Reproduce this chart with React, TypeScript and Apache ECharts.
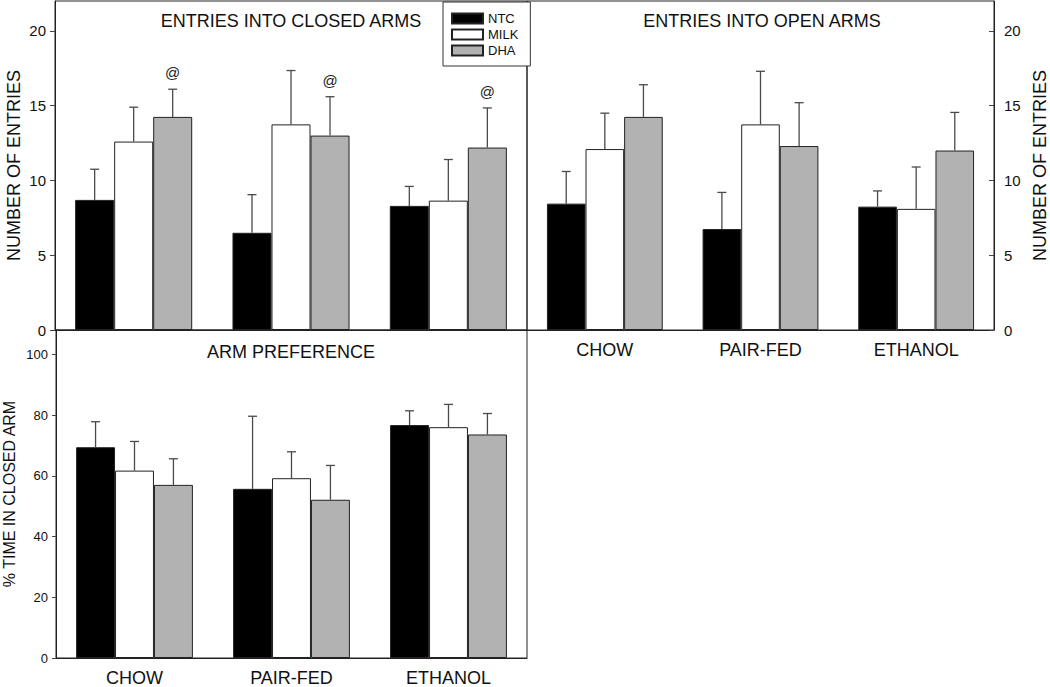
import React, { useEffect, useRef } from "react";
import * as echarts from "echarts";

const categories = ["CHOW", "PAIR-FED", "ETHANOL"];
const groups = ["NTC", "MILK", "DHA"];

// Entries into closed arms (mean, SEM)
const closedNTC = [8.7, 6.5, 8.3];
const closedNTCErr = [2.05, 2.55, 1.3];
const closedMILK = [12.6, 13.75, 8.65];
const closedMILKErr = [2.3, 3.6, 2.75];
const closedDHA = [14.25, 13.0, 12.2];
const closedDHAErr = [1.85, 2.6, 2.65];
const closedDHAMarks = ["@", "@", "@"];

// Entries into open arms
const openNTC = [8.45, 6.75, 8.25];
const openNTCErr = [2.15, 2.45, 1.05];
const openMILK = [12.1, 13.75, 8.1];
const openMILKErr = [2.4, 3.55, 2.8];
const openDHA = [14.25, 12.3, 12.0];
const openDHAErr = [2.15, 2.9, 2.55];

// Arm preference (% time in closed arm)
const prefNTC = [69.4, 55.7, 76.7];
const prefNTCErr = [8.4, 23.9, 4.7];
const prefMILK = [61.7, 59.2, 76.0];
const prefMILKErr = [9.6, 8.7, 7.5];
const prefDHA = [57.0, 52.1, 73.6];
const prefDHAErr = [8.6, 11.3, 6.9];

const entryTicks = [0, 5, 10, 15, 20];
const prefTicks = [0, 20, 40, 60, 80, 100];

const FONT = "Liberation Sans, Arial, sans-serif";
const CAT_GAP = 0.256;
const colors = ["#000000", "#ffffff", "#b2b2b2"];

function errRender(slot: number, marks?: string[]) {
  return (params: any, api: any) => {
    const cat = api.value(0);
    const mean = api.value(1);
    const upper = api.value(2);
    const p0 = api.coord([cat, mean]);
    const p1 = api.coord([cat, upper]);
    const band = api.size([1, 0])[0];
    const barW = (band * (1 - CAT_GAP)) / 3;
    const x = p0[0] + (slot - 1) * barW;
    const half = 4.5;
    const st = { stroke: "#4a4a4a", lineWidth: 1.3 };
    const children: any[] = [
      { type: "line", shape: { x1: x, y1: p0[1], x2: x, y2: p1[1] }, style: st },
      { type: "line", shape: { x1: x - half, y1: p1[1], x2: x + half, y2: p1[1] }, style: st },
    ];
    if (marks && marks[params.dataIndex]) {
      children.push({
        type: "text",
        x,
        y: p1[1] - 9,
        style: {
          text: marks[params.dataIndex],
          fill: "#222",
          font: `15px ${FONT}`,
          align: "center",
          verticalAlign: "bottom",
        },
      });
    }
    return { type: "group", children };
  };
}

function panelSeries(
  idx: number,
  means: number[][],
  errs: number[][],
  marks?: (string[] | undefined)[]
) {
  const out: any[] = [];
  means.forEach((m, s) => {
    out.push({
      type: "bar",
      name: groups[s],
      xAxisIndex: idx,
      yAxisIndex: idx,
      data: m,
      barGap: "0%",
      barCategoryGap: `${CAT_GAP * 100}%`,
      itemStyle: { color: colors[s], borderColor: "#222", borderWidth: 1 },
      emphasis: { disabled: true },
    });
  });
  means.forEach((m, s) => {
    out.push({
      type: "custom",
      name: `err-${idx}-${s}`,
      xAxisIndex: idx,
      yAxisIndex: idx,
      z: 5,
      renderItem: errRender(s, marks ? marks[s] : undefined),
      data: m.map((v, i) => [i, v, v + errs[s][i]]),
    });
  });
  return out;
}

export default function App() {
  const ref = useRef<HTMLDivElement>(null);
  useEffect(() => {
    document.body.style.margin = "0";
    const chart = echarts.init(ref.current!, null, { renderer: "svg" });
    const axisLine = { show: true, lineStyle: { color: "#222", width: 1 } };
    const xAxisBase = {
      type: "category",
      data: categories,
      axisLine,
      axisTick: { show: false },
      splitLine: { show: false },
    };
    const option: any = {
      animation: false,
      backgroundColor: "#fff",
      textStyle: { fontFamily: FONT },
      title: [
        { text: "ENTRIES INTO CLOSED ARMS", left: 291, top: 12, textAlign: "center", padding: 0,
          textStyle: { fontSize: 18, fontWeight: "normal", color: "#111", fontFamily: FONT } },
        { text: "ENTRIES INTO OPEN ARMS", left: 762, top: 12, textAlign: "center", padding: 0,
          textStyle: { fontSize: 18, fontWeight: "normal", color: "#111", fontFamily: FONT } },
        { text: "ARM PREFERENCE", left: 291, top: 343, textAlign: "center", padding: 0,
          textStyle: { fontSize: 18, fontWeight: "normal", color: "#111", fontFamily: FONT } },
      ],
      legend: {
        data: groups,
        orient: "vertical",
        left: 443,
        top: 2,
        padding: [10, 12, 9, 8],
        itemWidth: 31,
        itemHeight: 10,
        itemGap: 3,
        backgroundColor: "#fff",
        borderColor: "#333",
        borderWidth: 1,
        borderRadius: 0,
        icon: "rect",
        z: 10,
        selectedMode: false,
        textStyle: { fontSize: 13, color: "#111", fontFamily: FONT },
      },
      grid: [
        { left: 55, top: 1, width: 472, height: 329, show: true, borderColor: "#222", borderWidth: 1 },
        { left: 527, top: 1, width: 470, height: 329, show: true, borderColor: "#222", borderWidth: 1 },
        { left: 55, top: 330, width: 472, height: 331, show: true, borderColor: "#222", borderWidth: 1 },
      ],
      xAxis: [
        { ...xAxisBase, gridIndex: 0, axisLabel: { show: false } },
        { ...xAxisBase, gridIndex: 1, axisLabel: { fontSize: 18, color: "#111", margin: 11, fontFamily: FONT } },
        { ...xAxisBase, gridIndex: 2, axisLabel: { fontSize: 18, color: "#111", margin: 11, fontFamily: FONT } },
      ],
      yAxis: [
        {
          type: "value", gridIndex: 0, min: 0, max: 22,
          axisLine, splitLine: { show: false },
          axisTick: { show: true, length: 5, customValues: entryTicks, lineStyle: { color: "#444" } },
          axisLabel: { fontSize: 15, color: "#111", margin: 9, customValues: entryTicks, fontFamily: FONT },
          name: "NUMBER OF ENTRIES", nameLocation: "middle", nameGap: 32,
          nameTextStyle: { fontSize: 18, color: "#111", fontFamily: FONT },
        },
        {
          type: "value", gridIndex: 1, min: 0, max: 22, position: "right",
          axisLine, splitLine: { show: false },
          axisTick: { show: true, inside: true, length: 5, customValues: entryTicks, lineStyle: { color: "#444" } },
          axisLabel: { fontSize: 15, color: "#111", margin: 10, customValues: entryTicks, fontFamily: FONT },
          name: "NUMBER OF ENTRIES", nameLocation: "middle", nameGap: 37,
          nameTextStyle: { fontSize: 18, color: "#111", fontFamily: FONT },
        },
        {
          type: "value", gridIndex: 2, min: 0, max: 108,
          axisLine, splitLine: { show: false },
          axisTick: { show: true, length: 4, customValues: prefTicks, lineStyle: { color: "#444" } },
          axisLabel: { fontSize: 13, color: "#111", margin: 8, customValues: prefTicks, fontFamily: FONT },
          name: "% TIME IN CLOSED ARM", nameLocation: "middle", nameGap: 39,
          nameTextStyle: { fontSize: 16, color: "#111", fontFamily: FONT },
        },
      ],
      series: [
        ...panelSeries(0, [closedNTC, closedMILK, closedDHA], [closedNTCErr, closedMILKErr, closedDHAErr],
          [undefined, undefined, closedDHAMarks]),
        ...panelSeries(1, [openNTC, openMILK, openDHA], [openNTCErr, openMILKErr, openDHAErr]),
        ...panelSeries(2, [prefNTC, prefMILK, prefDHA], [prefNTCErr, prefMILKErr, prefDHAErr]),
      ],
    };
    chart.setOption(option);
    return () => chart.dispose();
  }, []);
  return <div ref={ref} style={{ width: 1050, height: 687 }} />;
}
